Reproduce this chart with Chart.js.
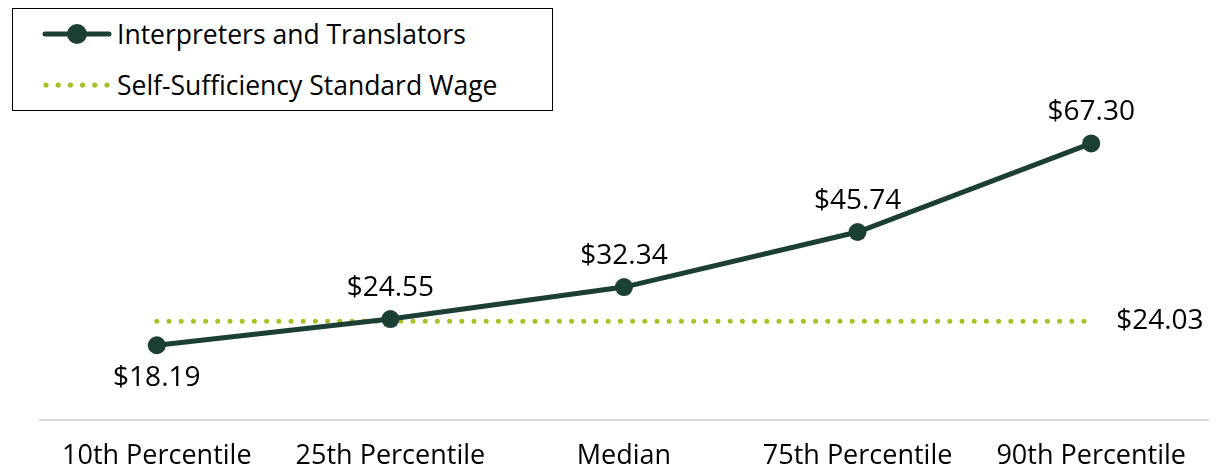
<!DOCTYPE html>
<html lang="en">
<head>
    <meta charset="UTF-8">
    <title>Interpreters and Translators Wages</title>
    <script src="https://cdn.jsdelivr.net/npm/chart.js"></script>
    <style>
        body {
            margin: 0;
            background: #ffffff;
            font-family: 'Open Sans', sans-serif;
        }

        .wrap {
            position: relative;
            width: 1217px;
            height: 470px;
        }

        .legend {
            position: absolute;
            left: 12px;
            top: 8px;
            width: 541px;
            height: 103px;
            border: 1.5px solid #000;
            background: #fff;
            box-sizing: border-box;
        }

        .legend-row {
            position: absolute;
            left: 28px;
            height: 30px;
            display: flex;
            align-items: center;
            font-size: 26.5px;
            color: #000;
        }

        .legend-row canvas {
            margin-right: 4px;
        }
    </style>
</head>
<body>

<div class="wrap">
    <canvas id="wageChart" width="1217" height="470"></canvas>
    <div class="legend">
        <div class="legend-row" style="top: 10px;"><canvas id="swatchLine" width="72" height="30"></canvas><span id="labelLine"></span></div>
        <div class="legend-row" style="top: 61px;"><canvas id="swatchDots" width="72" height="30"></canvas><span id="labelDots"></span></div>
    </div>
</div>

<script>
    const categories = ["10th Percentile", "25th Percentile", "Median", "75th Percentile", "90th Percentile"];
    const occupationWages = [18.19, 24.55, 32.34, 45.74, 67.30];
    const standardWage = [24.03, 24.03, 24.03, 24.03, 24.03];
    const seriesNames = ["Interpreters and Translators", "Self-Sufficiency Standard Wage"];

    const darkGreen = "#1c3f35";
    const limeGreen = "#a8c023";

    document.getElementById("labelLine").textContent = seriesNames[0];
    document.getElementById("labelDots").textContent = seriesNames[1];

    // legend swatches
    let s1 = document.getElementById("swatchLine").getContext("2d");
    s1.strokeStyle = darkGreen;
    s1.lineWidth = 5;
    s1.lineCap = "round";
    s1.beginPath();
    s1.moveTo(4, 15);
    s1.lineTo(68, 15);
    s1.stroke();
    s1.fillStyle = darkGreen;
    s1.beginPath();
    s1.arc(36, 15, 10, 0, Math.PI * 2);
    s1.fill();

    let s2 = document.getElementById("swatchDots").getContext("2d");
    s2.fillStyle = limeGreen;
    for (let i = 0; i < 6; i++) {
        s2.beginPath();
        s2.arc(5 + i * 12.2, 15, 2.6, 0, Math.PI * 2);
        s2.fill();
    }

    // value labels drawn next to points
    const valueLabels = {
        id: "valueLabels",
        afterDatasetsDraw(chart) {
            const ctx = chart.ctx;
            ctx.save();
            ctx.font = "28px 'Open Sans', sans-serif";
            ctx.fillStyle = "#000";
            ctx.textAlign = "center";
            ctx.textBaseline = "middle";

            chart.getDatasetMeta(0).data.forEach((pt, i) => {
                let text = "$" + occupationWages[i].toFixed(2);
                let dy = i === 0 ? 33 : -31;
                ctx.fillText(text, pt.x, pt.y + dy);
            });

            let metaStd = chart.getDatasetMeta(1).data;
            let last = metaStd[metaStd.length - 1];
            ctx.textAlign = "left";
            ctx.fillText("$" + standardWage[standardWage.length - 1].toFixed(2), last.x + 25, last.y);
            ctx.restore();
        }
    };

    new Chart(document.getElementById("wageChart"), {
        type: "line",
        data: {
            labels: categories,
            datasets: [
                {
                    label: seriesNames[0],
                    data: occupationWages,
                    borderColor: darkGreen,
                    backgroundColor: darkGreen,
                    borderWidth: 5,
                    pointRadius: 9,
                    pointHoverRadius: 9,
                    pointBorderWidth: 0,
                    tension: 0,
                    order: 0
                },
                {
                    label: seriesNames[1],
                    data: standardWage,
                    borderColor: limeGreen,
                    borderWidth: 5,
                    borderDash: [0, 12.2],
                    borderCapStyle: "round",
                    pointRadius: 0,
                    pointHoverRadius: 0,
                    order: 1
                }
            ]
        },
        plugins: [valueLabels],
        options: {
            responsive: false,
            animation: false,
            layout: {
                padding: { left: 40, right: 4, top: 9, bottom: 1 }
            },
            plugins: {
                legend: { display: false },
                tooltip: { enabled: false }
            },
            scales: {
                x: {
                    offset: true,
                    grid: { display: false, drawTicks: false },
                    border: { display: true, color: "#d9d9d9", width: 2 },
                    ticks: {
                        color: "#000",
                        font: { family: "'Open Sans', sans-serif", size: 27 },
                        padding: 20,
                        maxRotation: 0
                    },
                    afterFit(scale) {
                        // keep axis line near the bottom and let the plot run to the edges
                        scale.height = 49;
                        scale.paddingLeft = 0;
                        scale.paddingRight = 0;
                    }
                },
                y: {
                    display: false,
                    min: 0,
                    max: 100
                }
            }
        }
    });
</script>

</body>
</html>
